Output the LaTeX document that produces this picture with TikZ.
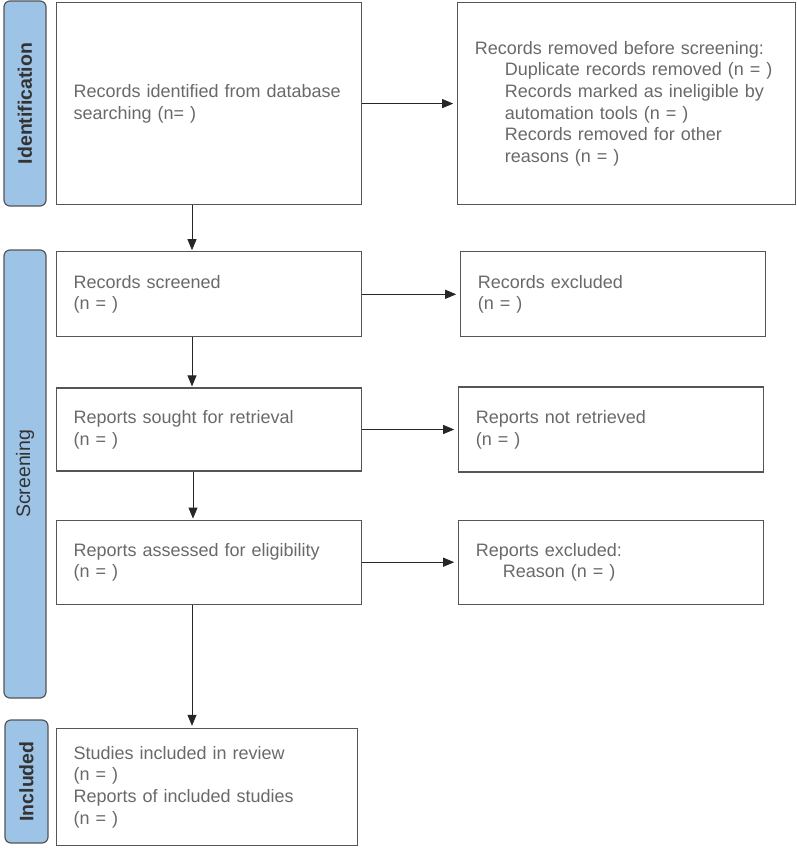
\documentclass[tikz,border=0pt]{standalone}
\usepackage{fontspec}
\setmainfont{Liberation Sans}
\usetikzlibrary{positioning,arrows.meta}
\definecolor{phaseblue}{RGB}{157,195,230}
\definecolor{linegray}{RGB}{85,85,85}
\definecolor{textgray}{RGB}{105,105,105}
\newcommand{\indline}{\hspace*{30pt}}
\begin{document}
\begin{tikzpicture}[x=1pt, y=-1pt, >={Triangle[length=11pt,width=9pt]},
    box/.style={rectangle, draw=linegray, line width=1.2pt, text=textgray, align=left,
        font=\fontsize{18}{21.7}\selectfont, text width=271pt, inner xsep=17pt, inner ysep=0pt, minimum height=85pt},
    phase/.style={rectangle, rounded corners=6pt, draw=linegray, line width=1.2pt, fill=phaseblue, rotate=90,
        minimum height=42pt, inner sep=0pt, text=black!80, font=\fontsize{19.5}{22}\selectfont},
    flow/.style={->, draw=black!85, line width=0.8pt}]
    \useasboundingbox (0,0) rectangle (797,848);

    % Phases
    \node[phase, minimum width=205pt, font=\fontsize{19.5}{22}\selectfont\bfseries] (identph) at (25,103.5) {Identification};
    \node[phase, minimum width=448pt] (screenph) at (25,474) {Screening};
    \node[phase, minimum width=123pt, minimum height=43pt, font=\fontsize{19.5}{22}\selectfont\bfseries] (inclph) at (26.5,781.5) {Included};

    % Boxes
    \node[box, minimum height=202pt, anchor=north west] (ident) at (56,2) {Records identified from database\\searching (n= )};
    \node[box, minimum height=202pt, text width=304pt, right=95pt of ident] (removed) {Records removed before screening:\\
        \indline Duplicate records removed (n = )\\
        \indline Records marked as ineligible by\\
        \indline automation tools (n = )\\
        \indline Records removed for other\\
        \indline reasons (n = )};
    \node[box, below=46pt of ident] (screened) {Records screened\\(n = )};
    \node[box, right=98pt of screened] (excluded) {Records excluded\\(n = )};
    \node[box, minimum height=83pt, below=50pt of screened] (sought) {Reports sought for retrieval\\(n = )};
    \node[box, right=96pt of sought] (notret) {Reports not retrieved\\(n = )};
    \node[box, minimum height=84pt, below=48pt of sought] (assessed) {Reports assessed for eligibility\\(n = )};
    \node[box, minimum height=84pt, right=96pt of assessed] (repexcl) {Reports excluded:\\\hspace*{27pt}Reason (n = )};
    \node[box, minimum height=117pt, text width=267pt, below=123pt of assessed.south west, anchor=north west] (included) {Studies included in review\\(n = )\\Reports of included studies\\(n = )};

    % Connectors
    \draw[flow, shorten >=4pt] (ident) -- (removed);
    \draw[flow, shorten >=4pt] (screened) -- (excluded);
    \draw[flow, shorten >=4pt] (sought) -- (notret);
    \draw[flow, shorten >=4pt] (assessed) -- (repexcl);
    \draw[flow, shorten >=1pt] ([xshift=136pt]ident.south west) -- ([xshift=136pt]screened.north west);
    \draw[flow, shorten >=1pt] ([xshift=136pt]screened.south west) -- ([xshift=136pt]sought.north west);
    \draw[flow, shorten >=1pt] ([xshift=137pt]sought.south west) -- ([xshift=137pt]assessed.north west);
    \draw[flow, shorten >=2pt] ([xshift=136pt]assessed.south west) -- ([xshift=136pt]included.north west);
\end{tikzpicture}
\end{document}
